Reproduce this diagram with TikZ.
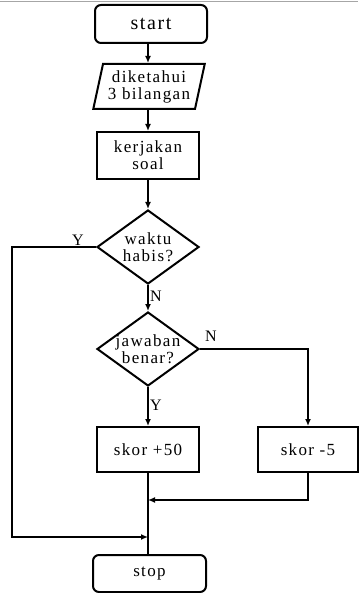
\documentclass[tikz,border=0pt]{standalone}
\usepackage{fontspec}
\setmainfont{Liberation Serif}[LetterSpace=8]
\usetikzlibrary{shapes.geometric,arrows.meta}
\begin{document}
\begin{tikzpicture}[x=1pt,y=-1pt,
  every node/.style={font=\fontsize{17}{17}\selectfont, align=center, line width=2pt, inner sep=0pt},
  proc/.style={draw, rectangle, minimum width=102pt, minimum height=46pt},
  term/.style={draw, rectangle, rounded corners=6pt, minimum width=112pt, minimum height=38pt},
  io/.style={draw, trapezium, trapezium left angle=75, trapezium right angle=105, trapezium stretches=true, minimum width=112pt, minimum height=45pt},
  dec/.style={draw, diamond, minimum width=102pt, minimum height=74pt},
  conn/.style={line width=2pt},
  arr/.style={conn, -{Latex[length=7pt,width=6pt]}},
  lbl/.style={font=\fontsize{16}{16}\selectfont}
]
\useasboundingbox (0,0) rectangle (358,593);
\draw[gray!70, line width=0.8pt] (0,1.5) -- (358,1.5);

\node[term, font=\fontsize{20}{20}\selectfont] (start) at (151,24) {start};
\node[io] (input) at (149,86.5) {diketahui\\3 bilangan};
\node[proc, minimum height=47pt] (kerj) at (148,155.5) {kerjakan\\soal};
\node[dec] (d1) at (148,247) {};
\node at (d1.center) {waktu\\habis?};
\node[dec, minimum height=74pt] (d2) at (148,349) {};
\node at (d2.center) {jawaban\\benar?};
\node[proc, minimum height=45pt] (plus) at (148,449.5) {skor +50};
\node[proc, minimum width=100pt, minimum height=45pt] (minus) at (308,449.5) {skor -5};
\node[term, minimum width=113pt, minimum height=37pt] (stop) at (149.5,573.5) {stop};

\coordinate (left1) at (12,247);
\coordinate (left2) at (12,537);
\coordinate (j2) at (148,537);
\coordinate (right1) at (308,349);
\coordinate (right2) at (308,500);
\coordinate (j1) at (148,500);

\draw[arr] (start.south -| kerj) -- (input.north -| kerj);
\draw[arr] (input.south -| kerj) -- (kerj.north);
\draw[arr] (kerj.south) -- (d1.north);
\draw[arr] (d1.west) -- (left1) -- (left2) -- (j2);
\draw[arr] (d1.south) -- (d2.north);
\draw[arr] (d2.east) -- (right1) -- (minus.north);
\draw[arr] (d2.south) -- (plus.north);
\draw[arr] (minus.south) -- (right2) -- (j1);
\draw[conn] (plus.south) -- (plus.south |- stop.north);

\node[lbl] (ly1) at (78,240) {Y};
\node[lbl] (ln1) at (156,296) {N};
\node[lbl] (ln2) at (211,336) {N};
\node[lbl] (ly2) at (156,405) {Y};
\end{tikzpicture}
\end{document}
